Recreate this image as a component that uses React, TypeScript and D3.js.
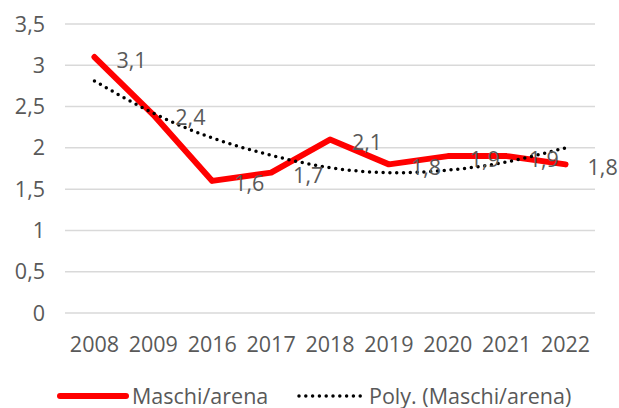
import React, { useEffect, useRef } from 'react';
import * as d3 from 'd3';

// data
const years = ['2008', '2009', '2016', '2017', '2018', '2019', '2020', '2021', '2022'];
const maschiArena = [3.1, 2.4, 1.6, 1.7, 2.1, 1.8, 1.9, 1.9, 1.8];
// polynomial trendline values
const polyTrend = [2.81, 2.42, 2.12, 1.91, 1.76, 1.7, 1.73, 1.83, 2.0];
const yTicks = [0, 0.5, 1, 1.5, 2, 2.5, 3, 3.5];

const fmt = (v: number) => String(v).replace('.', ',');

const App = () => {
  const ref = useRef<SVGSVGElement>(null);

  useEffect(() => {
    const width = 619;
    const height = 408;
    const margin = { top: 24, right: 24, bottom: 95, left: 65 };
    const font = '"Open Sans", sans-serif';
    const fontSize = 21.5;
    const textColor = '#595959';

    const svg = d3.select(ref.current);
    svg.selectAll('*').remove();

    const x = d3.scaleBand()
      .domain(years)
      .range([margin.left, width - margin.right]);

    const y = d3.scaleLinear()
      .domain([0, 3.5])
      .range([height - margin.bottom, margin.top]);

    const cx = (i: number) => (x(years[i]) as number) + x.bandwidth() / 2;

    // gridlines
    svg.append('g')
      .selectAll('line')
      .data(yTicks)
      .enter()
      .append('line')
      .attr('x1', margin.left)
      .attr('x2', width - margin.right)
      .attr('y1', d => y(d))
      .attr('y2', d => y(d))
      .attr('stroke', '#d9d9d9')
      .attr('stroke-width', 1.5);

    // y labels
    svg.append('g')
      .selectAll('text')
      .data(yTicks)
      .enter()
      .append('text')
      .attr('x', 45)
      .attr('y', d => y(d))
      .attr('dy', '0.35em')
      .attr('text-anchor', 'end')
      .attr('font-family', font)
      .attr('font-size', fontSize)
      .attr('fill', textColor)
      .text(d => fmt(d));

    // x labels
    svg.append('g')
      .selectAll('text')
      .data(years)
      .enter()
      .append('text')
      .attr('x', (d, i) => cx(i))
      .attr('y', 344)
      .attr('dy', '0.35em')
      .attr('text-anchor', 'middle')
      .attr('font-family', font)
      .attr('font-size', fontSize)
      .attr('fill', textColor)
      .text(d => d);

    // main series
    const line = d3.line<number>()
      .x((d, i) => cx(i))
      .y(d => y(d));

    svg.append('path')
      .datum(maschiArena)
      .attr('d', line)
      .attr('fill', 'none')
      .attr('stroke', '#ff0000')
      .attr('stroke-width', 6)
      .attr('stroke-linejoin', 'round')
      .attr('stroke-linecap', 'round');

    // trendline
    const trend = d3.line<number>()
      .x((d, i) => cx(i))
      .y(d => y(d))
      .curve(d3.curveNatural);

    svg.append('path')
      .datum(polyTrend)
      .attr('d', trend)
      .attr('fill', 'none')
      .attr('stroke', '#000')
      .attr('stroke-width', 3.5)
      .attr('stroke-linecap', 'round')
      .attr('stroke-dasharray', '0 6.8');

    // data labels
    svg.append('g')
      .selectAll('text')
      .data(maschiArena)
      .enter()
      .append('text')
      .attr('x', (d, i) => cx(i) + 22)
      .attr('y', d => y(d) + 3)
      .attr('dy', '0.35em')
      .attr('font-family', font)
      .attr('font-size', fontSize)
      .attr('fill', textColor)
      .text(d => fmt(d));

    // legend
    const legendY = 396;
    const legend = svg.append('g');
    legend.append('line')
      .attr('x1', 60).attr('x2', 126)
      .attr('y1', legendY).attr('y2', legendY)
      .attr('stroke', '#ff0000')
      .attr('stroke-width', 6)
      .attr('stroke-linecap', 'round');
    legend.append('text')
      .attr('x', 132).attr('y', legendY)
      .attr('dy', '0.35em')
      .attr('font-family', font)
      .attr('font-size', fontSize)
      .attr('fill', textColor)
      .text('Maschi/arena');
    legend.append('line')
      .attr('x1', 299).attr('x2', 363)
      .attr('y1', legendY).attr('y2', legendY)
      .attr('stroke', '#000')
      .attr('stroke-width', 3.5)
      .attr('stroke-linecap', 'round')
      .attr('stroke-dasharray', '0 6.8');
    legend.append('text')
      .attr('x', 369).attr('y', legendY)
      .attr('dy', '0.35em')
      .attr('font-family', font)
      .attr('font-size', fontSize)
      .attr('fill', textColor)
      .text('Poly. (Maschi/arena)');
  }, []);

  return (
    <svg
      ref={ref}
      width={619}
      height={408}
      style={{ position: 'absolute', left: 0, top: 0, background: '#fff' }}
    />
  );
};

export default App;
